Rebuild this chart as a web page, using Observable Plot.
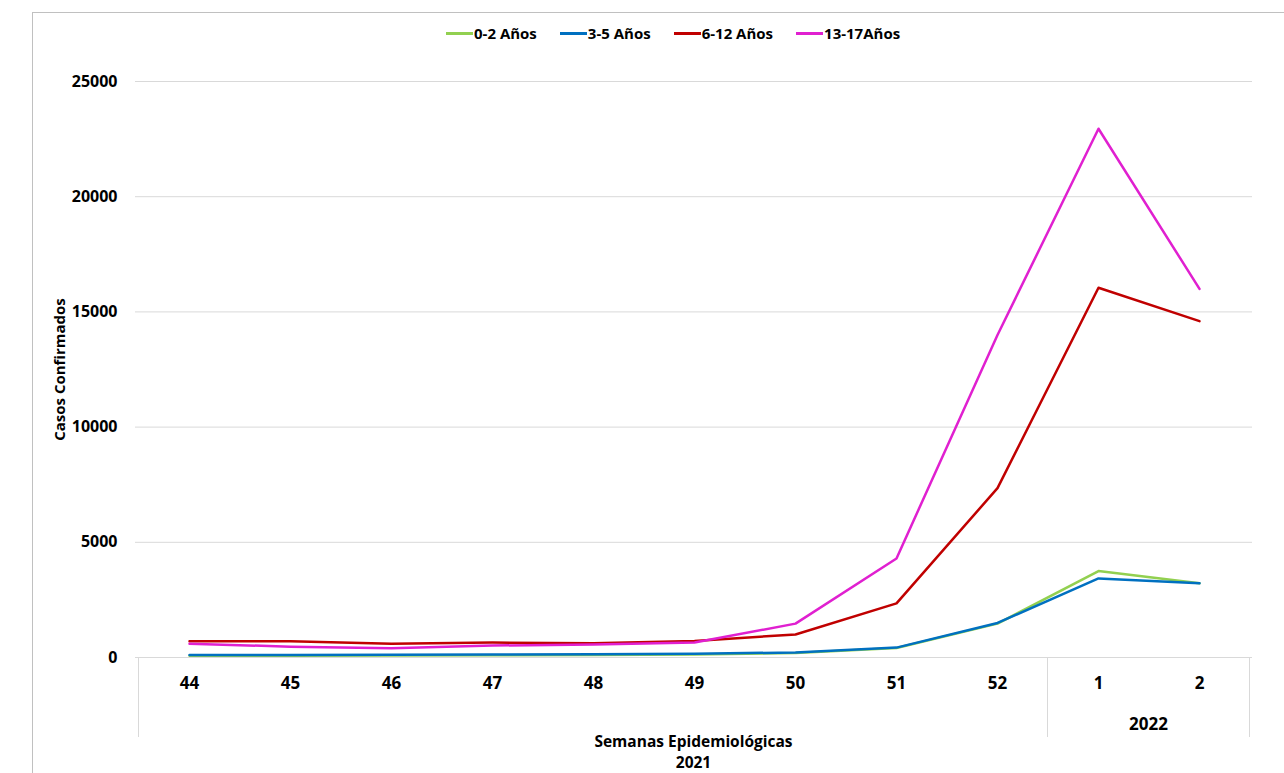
<!DOCTYPE html>
<html>
<head>
<meta charset="utf-8">
<script src="https://cdn.jsdelivr.net/npm/d3@7"></script>
<script src="https://cdn.jsdelivr.net/npm/@observablehq/plot@0.6"></script>
<style>
  html, body { margin: 0; padding: 0; background: #fff; overflow: hidden; }
  #wrap { position: relative; width: 1284px; height: 773px; overflow: hidden; font-family: "Open Sans", sans-serif; }
  #border { position: absolute; left: 32px; top: 12px; width: 1400px; height: 900px; border: 1px solid #c0c0c0; box-sizing: border-box; }
  #chart { position: absolute; left: 0; top: 0; }
  #legend { position: absolute; left: 446px; top: 23px; display: flex; gap: 23px; font-weight: 700; font-size: 15px; color: #000; align-items: center; }
  #legend .item { display: flex; align-items: center; }
  #legend .sw { width: 27px; height: 3px; margin-right: 1px; }
</style>
</head>
<body>
<div id="wrap">
  <div id="border"></div>
  <div id="chart"></div>
  <div id="legend"></div>
</div>
<script>
// ---- data ----
const weeks = ["44","45","46","47","48","49","50","51","52","1","2"];
const weekYears = ["2021","2021","2021","2021","2021","2021","2021","2021","2021","2022","2022"];
const seriesNames = ["0-2 Años","3-5 Años","6-12 Años","13-17Años"];
const seriesColors = ["#92D050","#0070C0","#C00000","#E020D0"];
const casos0_2  = [80, 80, 90, 100, 110, 130, 190, 410, 1470, 3750, 3220];
const casos3_5  = [110, 110, 120, 130, 140, 160, 220, 430, 1500, 3430, 3220];
const casos6_12 = [700, 700, 600, 650, 620, 720, 1000, 2350, 7350, 16050, 14600];
const casos13_17 = [600, 470, 400, 520, 560, 650, 1470, 4300, 14000, 22950, 16000];
const yTicks = [0, 5000, 10000, 15000, 20000, 25000];
const yLabel = "Casos Confirmados";
const xLabel = "Semanas Epidemiológicas";

// ---- build table ----
const allSeries = [casos0_2, casos3_5, casos6_12, casos13_17];
const rows = [];
allSeries.forEach((vals, si) => {
  vals.forEach((v, i) => rows.push({serie: seriesNames[si], week: weeks[i], year: weekYears[i], casos: v}));
});

// legend
const legend = document.getElementById("legend");
seriesNames.forEach((n, i) => {
  const it = document.createElement("div");
  it.className = "item";
  it.innerHTML = `<span class="sw" style="background:${seriesColors[i]}"></span><span>${n}</span>`;
  legend.appendChild(it);
});

// custom mark for category boxes and year labels
function bottomAxis(index, scales, values, dims) {
  const x = scales.x, y = scales.y;
  const step = x.step ? x.step() : (dims.width - dims.marginLeft - dims.marginRight) / weeks.length;
  const y0 = y(0);
  const g = d3.create("svg:g").attr("fill", "#000");
  const years = Array.from(new Set(weekYears));
  const bounds = [];
  years.forEach((yr) => {
    const ws = weeks.filter((w, i) => weekYears[i] === yr);
    const left = x(ws[0]) - step / 2, right = x(ws[ws.length - 1]) + step / 2;
    bounds.push({yr, left, right});
  });
  const lines = new Set();
  bounds.forEach(b => { lines.add(b.left); lines.add(b.right); });
  for (const lx of lines) {
    g.append("line").attr("x1", lx).attr("x2", lx).attr("y1", y0).attr("y2", y0 + 80)
      .attr("stroke", "#d9d9d9").attr("stroke-width", 1);
  }
  const last = bounds[bounds.length - 1];
  g.append("text").attr("x", (last.left + last.right) / 2).attr("y", y0 + 73)
    .attr("text-anchor", "middle").attr("font-size", 17).attr("font-weight", 700).text(last.yr);
  const cx = (dims.marginLeft + dims.width - dims.marginRight) / 2;
  g.append("text").attr("x", cx).attr("y", y0 + 90)
    .attr("text-anchor", "middle").attr("font-size", 15.5).attr("font-weight", 700).text(xLabel);
  g.append("text").attr("x", cx).attr("y", y0 + 111)
    .attr("text-anchor", "middle").attr("font-size", 15.5).attr("font-weight", 700).text(bounds[0].yr);
  return g.node();
}

const chart = Plot.plot({
  width: 1284,
  height: 773,
  marginTop: 81,
  marginBottom: 116,
  marginLeft: 135,
  marginRight: 32,
  style: { fontFamily: "Open Sans, sans-serif", fontSize: "15px", fontWeight: 700, color: "#000", background: "transparent" },
  x: { type: "point", domain: weeks, padding: 0.5 },
  y: { domain: [0, 25000] },
  color: { domain: seriesNames, range: seriesColors },
  marks: [
    Plot.gridY(yTicks, { stroke: "#d9d9d9", strokeOpacity: 1 }),
    Plot.axisY(yTicks, { tickSize: 0, tickPadding: 18, label: null, fontSize: 16, fontWeight: 700, tickFormat: d3.format("d") }),
    Plot.axisX({ tickSize: 0, tickPadding: 19, label: null, fontSize: 17, fontWeight: 700 }),
    Plot.text([yLabel], { frameAnchor: "left", dx: -75, rotate: -90, textAnchor: "middle", text: d => d, fontSize: 15, fontWeight: 700 }),
    bottomAxis,
    Plot.line(rows, { x: "week", y: "casos", z: "serie", stroke: "serie", strokeWidth: 2.5 })
  ]
});
document.getElementById("chart").appendChild(chart);
</script>
</body>
</html>
